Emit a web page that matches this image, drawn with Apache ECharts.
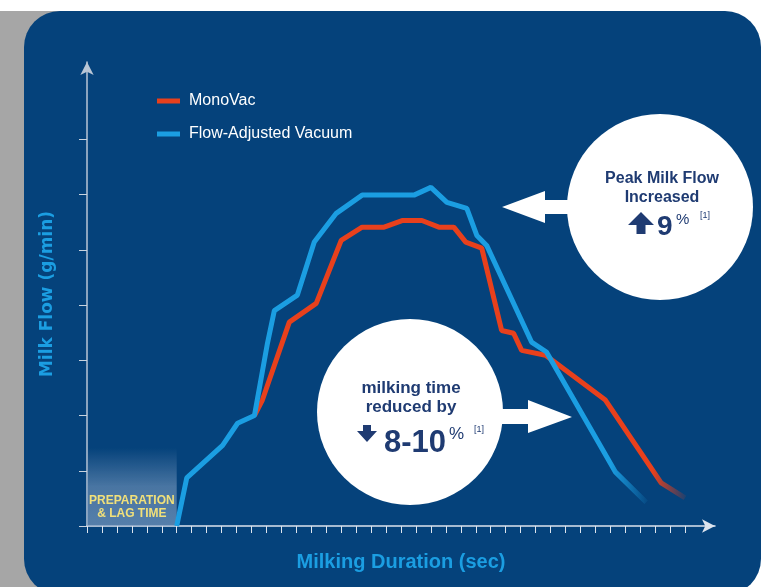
<!DOCTYPE html>
<html>
<head>
<meta charset="utf-8">
<script src="https://cdn.jsdelivr.net/npm/echarts@6/dist/echarts.min.js"></script>
<style>
  html, body { margin: 0; padding: 0; background: #ffffff; width: 769px; height: 587px; overflow: hidden; }
  #gray { position: absolute; left: 0; top: 11px; width: 60px; height: 576px; background: #a6a6a6; }
  #panel { position: absolute; left: 24px; top: 11px; width: 737px; height: 584px; border-radius: 36px; background: #05427b; }
  #chart { position: absolute; left: 0; top: 0; width: 769px; height: 587px; }
</style>
</head>
<body>
<div id="gray"></div>
<div id="panel"></div>
<div id="chart"></div>
<script>
// ---- data ----
const seriesNames = ['MonoVac', 'Flow-Adjusted Vacuum'];
const redX  = [11.2, 11.73, 13.53, 15.33, 17.0, 18.4, 19.87, 21.07, 22.4, 23.53, 24.53, 25.33, 26.4, 27.73, 28.53, 29.07, 30.67, 34.67, 38.4, 40.0];
const redY  = [2.0, 2.28, 3.69, 4.03, 5.17, 5.41, 5.41, 5.53, 5.53, 5.41, 5.41, 5.14, 5.03, 3.54, 3.49, 3.18, 3.09, 2.28, 0.78, 0.51];
const blueX = [6.0, 6.67, 9.07, 10.07, 11.2, 12.07, 12.53, 14.07, 15.2, 16.67, 18.4, 21.87, 23.0, 24.07, 25.4, 26.07, 26.73, 29.73, 30.73, 35.33, 37.4];
const blueY = [0, 0.87, 1.46, 1.86, 2.0, 3.31, 3.9, 4.18, 5.14, 5.66, 5.99, 5.99, 6.13, 5.86, 5.75, 5.26, 5.08, 3.33, 3.15, 0.98, 0.43];
const xTicks = [0,1,2,3,4,5,6,7,8,9,10,11,12,13,14,15,16,17,18,19,20,21,22,23,24,25,26,27,28,29,30,31,32,33,34,35,36,37,38,39,40];
const yTicks = [0,1,2,3,4,5,6,7];
const lagRange = [0, 6];      // preparation & lag time (x units)
const lagHeight = 1.42;
const xTitle = 'Milking Duration (sec)';
const yTitle = 'Milk Flow (g/min)';

const RED = '#e8401c';
const BLUE = '#1b9ee2';
const NAVY = '#1f3b72';

const redData = redX.map((x, i) => [x, redY[i]]);
const blueData = blueX.map((x, i) => [x, blueY[i]]);

function fade(color, rgb) {
  return new echarts.graphic.LinearGradient(0, 0, 1, 0, [
    { offset: 0, color: color },
    { offset: 0.92, color: color },
    { offset: 1, color: 'rgba(' + rgb + ',0.05)' }
  ]);
}

const chart = echarts.init(document.getElementById('chart'), null, { renderer: 'canvas' });
chart.setOption({
  backgroundColor: 'transparent',
  animation: false,
  grid: { left: 87, right: 54, top: 62, bottom: 61 },
  legend: {
    orient: 'vertical',
    left: 152,
    top: 88,
    icon: 'rect',
    itemWidth: 23,
    itemHeight: 5,
    itemGap: 17,
    textStyle: { color: '#ffffff', fontSize: 16, fontFamily: 'Liberation Sans, Arial, sans-serif', padding: [0, 0, 0, 4] },
    data: [
      { name: seriesNames[0], itemStyle: { color: RED } },
      { name: seriesNames[1], itemStyle: { color: BLUE } }
    ]
  },
  xAxis: {
    type: 'value',
    min: 0,
    max: 42,
    name: xTitle,
    nameLocation: 'middle',
    nameGap: 26,
    nameTextStyle: { color: BLUE, fontSize: 20, fontWeight: 'bold', fontFamily: 'Liberation Sans, Arial, sans-serif' },
    splitLine: { show: false },
    axisLine: { show: true, lineStyle: { color: '#dde4ee', width: 1.5 }, symbol: ['none', 'arrow'], symbolSize: [10, 13] },
    axisTick: { show: true, inside: false, length: 7, customValues: xTicks, lineStyle: { color: '#dde4ee', width: 1 } },
    axisLabel: { show: false }
  },
  yAxis: {
    type: 'value',
    min: 0,
    max: 8.4,
    name: yTitle,
    nameLocation: 'middle',
    nameRotate: 90,
    nameGap: 31,
    nameTextStyle: { color: BLUE, fontSize: 17, fontWeight: 'bold', fontFamily: 'DejaVu Sans, sans-serif' },
    splitLine: { show: false },
    axisLine: { show: true, lineStyle: { color: '#b9c6d6', width: 1.5 }, symbol: ['none', 'arrow'], symbolSize: [10, 13] },
    axisTick: { show: true, inside: false, length: 8, customValues: yTicks, lineStyle: { color: '#c9d3df', width: 1 } },
    axisLabel: { show: false }
  },
  series: [
    {
      name: seriesNames[0],
      type: 'line',
      data: redData,
      showSymbol: false,
      z: 3,
      itemStyle: { color: RED },
      lineStyle: { width: 5, color: fade(RED, '232,64,28') }
    },
    {
      name: seriesNames[1],
      type: 'line',
      data: blueData,
      showSymbol: false,
      z: 4,
      itemStyle: { color: BLUE },
      lineStyle: { width: 5, color: fade(BLUE, '27,158,226') },
      markArea: {
        silent: true,
        itemStyle: {
          color: new echarts.graphic.LinearGradient(0, 0, 0, 1, [
            { offset: 0, color: 'rgba(130,160,195,0.0)' },
            { offset: 0.5, color: 'rgba(130,160,195,0.55)' },
            { offset: 1, color: 'rgba(130,160,195,0.65)' }
          ])
        },
        label: {
          show: true,
          position: 'insideBottom',
          distance: 6,
          color: '#f1e07a',
          fontSize: 12,
          fontWeight: 'bold',
          lineHeight: 13,
          fontFamily: 'Liberation Sans, Arial, sans-serif',
          formatter: 'PREPARATION\n& LAG TIME'
        },
        data: [[{ xAxis: lagRange[0], yAxis: 0 }, { xAxis: lagRange[1], yAxis: lagHeight }]]
      }
    }
  ],
  graphic: [
    // callout 1 : peak milk flow
    { type: 'circle', z: 100, shape: { cx: 660, cy: 207, r: 93 }, style: { fill: '#ffffff' } },
    { type: 'polygon', z: 100, shape: { points: [[502, 207], [545, 191], [545, 200], [575, 200], [575, 214], [545, 214], [545, 223]] }, style: { fill: '#ffffff' } },
    { type: 'text', z: 101, style: { x: 662, y: 188, text: 'Peak Milk Flow\nIncreased', fill: NAVY, font: 'bold 16px "Liberation Sans", Arial, sans-serif', lineHeight: 19, align: 'center', verticalAlign: 'middle' } },
    { type: 'polygon', z: 101, shape: { points: [[641, 212], [654, 225], [645.5, 225], [645.5, 234], [636.5, 234], [636.5, 225], [628, 225]] }, style: { fill: NAVY } },
    { type: 'text', z: 101, style: { x: 657, y: 227, text: '9', fill: NAVY, font: 'bold 28px "Liberation Sans", Arial, sans-serif', align: 'left', verticalAlign: 'middle' } },
    { type: 'text', z: 101, style: { x: 676, y: 220, text: '%', fill: NAVY, font: '15px "Liberation Sans", Arial, sans-serif', align: 'left', verticalAlign: 'middle' } },
    { type: 'text', z: 101, style: { x: 700, y: 216, text: '[1]', fill: NAVY, font: '9px "Liberation Sans", Arial, sans-serif', align: 'left', verticalAlign: 'middle' } },
    // callout 2 : milking time reduced
    { type: 'circle', z: 100, shape: { cx: 410, cy: 412, r: 93 }, style: { fill: '#ffffff' } },
    { type: 'polygon', z: 100, shape: { points: [[495, 409], [528, 409], [528, 400], [572, 417], [528, 433], [528, 424], [495, 424]] }, style: { fill: '#ffffff' } },
    { type: 'text', z: 101, style: { x: 411, y: 398, text: 'milking time\nreduced by', fill: NAVY, font: 'bold 17px "Liberation Sans", Arial, sans-serif', lineHeight: 19, align: 'center', verticalAlign: 'middle' } },
    { type: 'polygon', z: 101, shape: { points: [[363, 425], [371, 425], [371, 431], [377, 431], [367, 442], [357, 431], [363, 431]] }, style: { fill: NAVY } },
    { type: 'text', z: 101, style: { x: 384, y: 443, text: '8-10', fill: NAVY, font: 'bold 31px "Liberation Sans", Arial, sans-serif', align: 'left', verticalAlign: 'middle' } },
    { type: 'text', z: 101, style: { x: 449, y: 434, text: '%', fill: NAVY, font: '17px "Liberation Sans", Arial, sans-serif', align: 'left', verticalAlign: 'middle' } },
    { type: 'text', z: 101, style: { x: 474, y: 430, text: '[1]', fill: NAVY, font: '9px "Liberation Sans", Arial, sans-serif', align: 'left', verticalAlign: 'middle' } }
  ]
});
</script>
</body>
</html>
